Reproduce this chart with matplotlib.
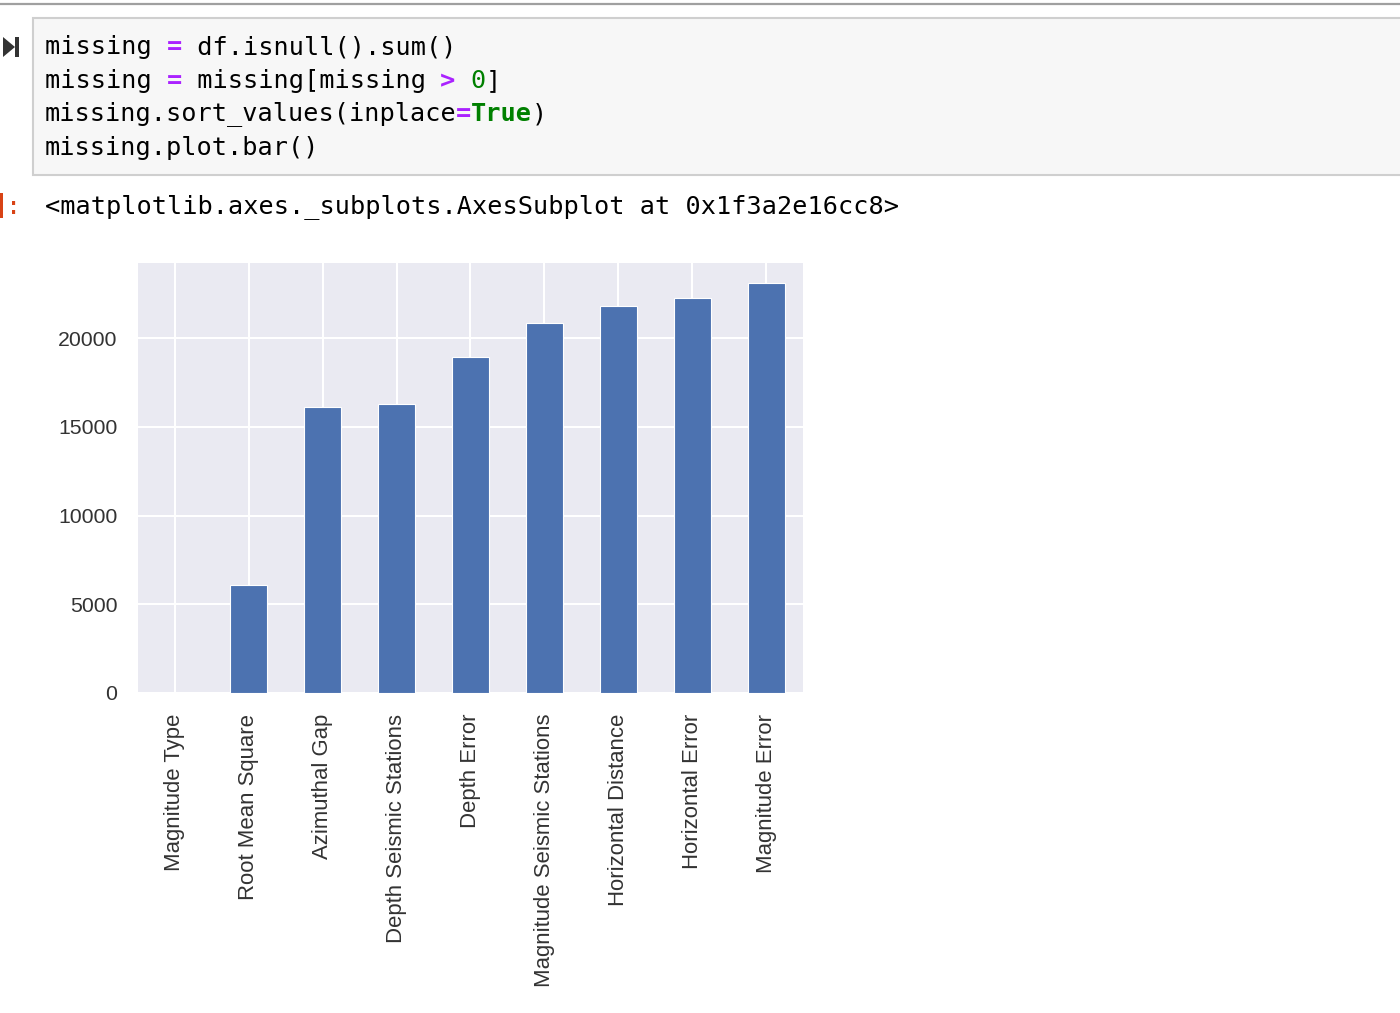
import matplotlib.pyplot as plt
from matplotlib.patches import Rectangle, Polygon
from matplotlib.lines import Line2D

# missing value counts per column (sorted ascending)
columns = ["Magnitude Type", "Root Mean Square", "Azimuthal Gap",
           "Depth Seismic Stations", "Depth Error", "Magnitude Seismic Stations",
           "Horizontal Distance", "Horizontal Error", "Magnitude Error"]
missing = [3, 6060, 16113, 16315, 18951, 20848, 21808, 22256, 23085]
yticks = [0, 5000, 10000, 15000, 20000]

code_lines = [
    [("missing ", "k", "normal"), ("=", "#aa22ff", "bold"), (" df.isnull().sum()", "k", "normal")],
    [("missing ", "k", "normal"), ("=", "#aa22ff", "bold"), (" missing[missing ", "k", "normal"),
     (">", "#aa22ff", "bold"), (" ", "k", "normal"), ("0", "#008000", "normal"), ("]", "k", "normal")],
    [("missing.sort_values(inplace", "k", "normal"), ("=", "#aa22ff", "bold"),
     ("True", "#008000", "bold"), (")", "k", "normal")],
    [("missing.plot.bar()", "k", "normal")],
]
output_text = "<matplotlib.axes._subplots.AxesSubplot at 0x1f3a2e16cc8>"

W, H = 1400, 1013
fig = plt.figure(figsize=(W / 100, H / 100), dpi=100)
fig.patch.set_facecolor("white")


def fx(px):
    return px / W


def fy(py):
    return 1 - py / H


mono = "DejaVu Sans Mono"
mono_size = 18.2
char_w = 15.2

# notebook chrome
fig.add_artist(Line2D([0, 1], [fy(4), fy(4)], color="#a0a0a0", lw=1.6, transform=fig.transFigure))
fig.add_artist(Rectangle((fx(33), fy(175)), 1.0, 157 / H, transform=fig.transFigure,
                         facecolor="#f7f7f7", edgecolor="#cfcfcf", lw=1.5))
fig.add_artist(Polygon([[fx(3), fy(37)], [fx(3), fy(57)], [fx(15), fy(47)]], closed=True,
                       transform=fig.transFigure, facecolor="#333333", edgecolor="none"))
fig.add_artist(Rectangle((fx(15), fy(57)), 4 / W, 20 / H, transform=fig.transFigure,
                         facecolor="#333333", edgecolor="none"))

line_y = [47, 81, 114, 148]
for y, tokens in zip(line_y, code_lines):
    col = 0
    for txt, color, weight in tokens:
        fig.text(fx(45 + col * char_w), fy(y), txt, color=color, fontweight=weight,
                 family=mono, fontsize=mono_size, va="center", ha="left")
        col += len(txt)

# output prompt: the bracket is clipped by the page edge, only its stem shows
fig.add_artist(Rectangle((fx(0), fy(218)), 2.5 / W, 25 / H, transform=fig.transFigure,
                         facecolor="#d84315", edgecolor="none"))
fig.text(fx(13.5), fy(207), ":", color="#d84315", family=mono, fontsize=mono_size,
         va="center", ha="center")
fig.text(fx(45), fy(207), output_text, color="k", family=mono, fontsize=mono_size,
         va="center", ha="left")

# the bar chart
ax = fig.add_axes([fx(138), fy(693), (803 - 138) / W, (693 - 263) / H])
ax.set_facecolor("#eaeaf2")
for s in ax.spines.values():
    s.set_visible(False)
x = list(range(len(columns)))
ax.bar(x, missing, width=0.5, color="#4c72b0", edgecolor="white", linewidth=0.8, zorder=2)
ax.set_xlim(-0.5, len(columns) - 0.5)
ax.set_ylim(0, max(missing) * 1.05)
ax.set_xticks(x)
ax.set_xticklabels(columns, rotation=90)
ax.set_yticks(yticks)
ax.grid(True, color="white", lw=1.5, zorder=0)
ax.set_axisbelow(True)
ax.tick_params(length=0, pad=15, labelsize=15.3, labelcolor="#333333")
ax.tick_params(axis="x", labelsize=15.9)
for lab in ax.get_xticklabels() + ax.get_yticklabels():
    lab.set_family("Liberation Sans")

fig.savefig("out.png", dpi=100)
